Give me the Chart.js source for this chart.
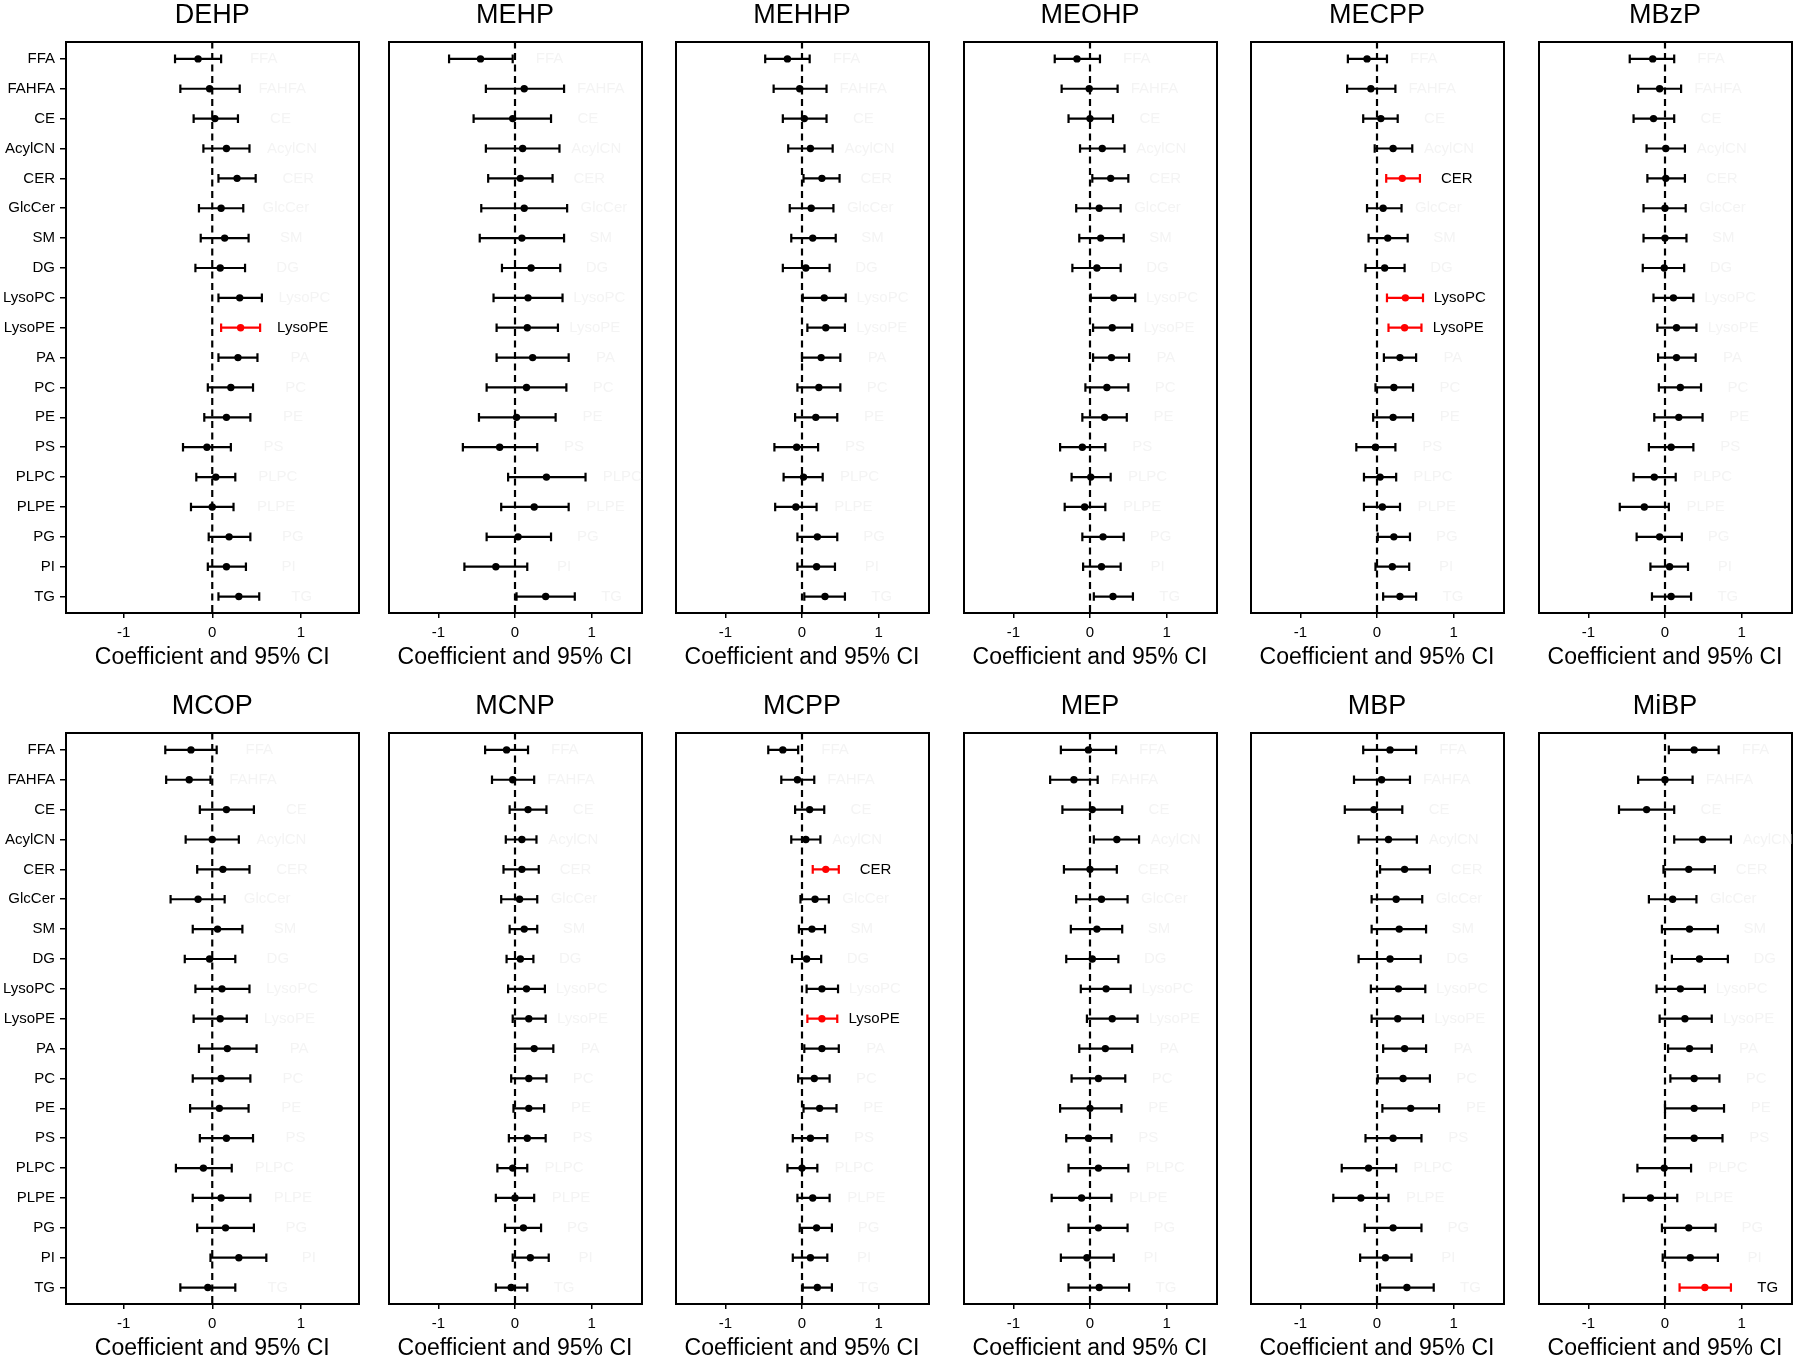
<!DOCTYPE html>
<html>
<head>
<meta charset="utf-8">
<script src="https://cdn.jsdelivr.net/npm/chart.js@4.4.1/dist/chart.umd.min.js"></script>
<style>
  html, body { margin: 0; padding: 0; background: #fff; overflow: hidden; }
  body { width: 1800px; height: 1359px; position: relative; }
  canvas { position: absolute; }
</style>
</head>
<body>
<script>
// lipid classes, top to bottom
const categories = ['FFA', 'FAHFA', 'CE', 'AcylCN', 'CER', 'GlcCer', 'SM', 'DG', 'LysoPC', 'LysoPE',
  'PA', 'PC', 'PE', 'PS', 'PLPC', 'PLPE', 'PG', 'PI', 'TG'];
const xTicks = [-1, 0, 1];

// DEHP
const dehpLo  = [-0.42, -0.36, -0.21, -0.10, 0.07, -0.15, -0.13, -0.19, 0.07, 0.10, 0.07, -0.05, -0.09, -0.33, -0.18, -0.24, -0.04, -0.05, 0.07];
const dehpEst = [-0.16, -0.03, 0.03, 0.16, 0.28, 0.10, 0.14, 0.09, 0.31, 0.32, 0.29, 0.21, 0.16, -0.06, 0.04, 0.00, 0.19, 0.16, 0.30];
const dehpHi  = [0.10, 0.31, 0.29, 0.42, 0.49, 0.35, 0.41, 0.37, 0.56, 0.54, 0.51, 0.46, 0.43, 0.21, 0.26, 0.24, 0.43, 0.38, 0.53];
const dehpSig = ['LysoPE'];

// MEHP
const mehpLo  = [-0.86, -0.38, -0.54, -0.38, -0.35, -0.44, -0.46, -0.17, -0.28, -0.24, -0.24, -0.37, -0.47, -0.68, -0.09, -0.18, -0.37, -0.66, 0.02];
const mehpEst = [-0.45, 0.12, -0.03, 0.10, 0.07, 0.12, 0.09, 0.21, 0.17, 0.16, 0.23, 0.15, 0.02, -0.20, 0.41, 0.25, 0.04, -0.25, 0.40];
const mehpHi  = [-0.03, 0.64, 0.47, 0.58, 0.49, 0.68, 0.64, 0.59, 0.62, 0.56, 0.70, 0.67, 0.53, 0.29, 0.92, 0.70, 0.47, 0.16, 0.78];
const mehpSig = [];

// MEHHP
const mehhpLo  = [-0.48, -0.37, -0.25, -0.18, 0.02, -0.16, -0.14, -0.25, 0.01, 0.07, 0.00, -0.06, -0.09, -0.36, -0.24, -0.35, -0.06, -0.06, 0.03];
const mehhpEst = [-0.19, -0.03, 0.03, 0.11, 0.26, 0.12, 0.14, 0.05, 0.29, 0.31, 0.25, 0.22, 0.18, -0.07, 0.02, -0.08, 0.20, 0.19, 0.30];
const mehhpHi  = [0.10, 0.32, 0.32, 0.40, 0.49, 0.41, 0.44, 0.36, 0.57, 0.56, 0.50, 0.50, 0.46, 0.21, 0.27, 0.19, 0.46, 0.43, 0.56];
const mehhpSig = [];

// MEOHP
const meohpLo  = [-0.46, -0.37, -0.28, -0.13, 0.03, -0.18, -0.14, -0.23, 0.01, 0.04, 0.04, -0.06, -0.10, -0.39, -0.24, -0.33, -0.10, -0.09, 0.05];
const meohpEst = [-0.17, -0.01, 0.00, 0.16, 0.27, 0.12, 0.14, 0.09, 0.31, 0.29, 0.28, 0.22, 0.19, -0.10, 0.01, -0.07, 0.17, 0.15, 0.30];
const meohpHi  = [0.13, 0.36, 0.30, 0.45, 0.50, 0.40, 0.44, 0.40, 0.59, 0.55, 0.51, 0.50, 0.48, 0.20, 0.27, 0.20, 0.44, 0.40, 0.56];
const meohpSig = [];

// MECPP
const mecppLo  = [-0.38, -0.39, -0.18, -0.03, 0.12, -0.13, -0.11, -0.15, 0.13, 0.15, 0.09, -0.02, -0.05, -0.27, -0.17, -0.17, 0.01, -0.02, 0.08];
const mecppEst = [-0.13, -0.08, 0.05, 0.21, 0.33, 0.08, 0.14, 0.10, 0.37, 0.36, 0.30, 0.22, 0.21, -0.02, 0.04, 0.07, 0.22, 0.20, 0.30];
const mecppHi  = [0.13, 0.24, 0.27, 0.46, 0.56, 0.32, 0.40, 0.36, 0.60, 0.58, 0.51, 0.47, 0.47, 0.24, 0.25, 0.30, 0.43, 0.42, 0.51];
const mecppSig = ['CER', 'LysoPC', 'LysoPE'];

// MBzP
const mbzpLo  = [-0.46, -0.35, -0.41, -0.24, -0.23, -0.28, -0.28, -0.29, -0.15, -0.10, -0.09, -0.08, -0.14, -0.21, -0.41, -0.59, -0.37, -0.19, -0.17];
const mbzpEst = [-0.16, -0.07, -0.15, 0.01, 0.01, 0.00, 0.00, -0.01, 0.11, 0.15, 0.15, 0.20, 0.18, 0.08, -0.14, -0.27, -0.07, 0.06, 0.08];
const mbzpHi  = [0.12, 0.21, 0.12, 0.26, 0.26, 0.27, 0.28, 0.25, 0.37, 0.41, 0.40, 0.47, 0.49, 0.37, 0.14, 0.05, 0.22, 0.30, 0.34];
const mbzpSig = [];

// MCOP
const mcopLo  = [-0.53, -0.52, -0.14, -0.30, -0.17, -0.47, -0.22, -0.31, -0.19, -0.21, -0.15, -0.22, -0.25, -0.14, -0.41, -0.22, -0.17, -0.02, -0.36];
const mcopEst = [-0.24, -0.26, 0.16, 0.00, 0.12, -0.16, 0.06, -0.03, 0.11, 0.09, 0.17, 0.10, 0.08, 0.16, -0.10, 0.10, 0.15, 0.30, -0.05];
const mcopHi  = [0.05, -0.02, 0.47, 0.30, 0.42, 0.14, 0.34, 0.26, 0.42, 0.39, 0.50, 0.43, 0.41, 0.46, 0.22, 0.43, 0.47, 0.61, 0.26];
const mcopSig = [];

// MCNP
const mcnpLo  = [-0.39, -0.30, -0.07, -0.12, -0.15, -0.18, -0.07, -0.11, -0.09, -0.03, 0.00, -0.05, -0.02, -0.08, -0.23, -0.25, -0.13, -0.03, -0.25];
const mcnpEst = [-0.11, -0.03, 0.17, 0.09, 0.09, 0.06, 0.12, 0.07, 0.15, 0.18, 0.25, 0.18, 0.18, 0.16, -0.03, 0.00, 0.11, 0.20, -0.05];
const mcnpHi  = [0.17, 0.25, 0.41, 0.28, 0.31, 0.29, 0.29, 0.24, 0.39, 0.40, 0.50, 0.41, 0.38, 0.40, 0.16, 0.25, 0.34, 0.44, 0.16];
const mcnpSig = [];

// MCPP
const mcppLo  = [-0.44, -0.27, -0.09, -0.14, 0.14, -0.02, -0.04, -0.13, 0.06, 0.07, 0.03, -0.05, 0.02, -0.12, -0.19, -0.06, -0.03, -0.12, 0.01];
const mcppEst = [-0.25, -0.06, 0.10, 0.05, 0.31, 0.17, 0.13, 0.06, 0.26, 0.26, 0.26, 0.16, 0.23, 0.11, 0.00, 0.14, 0.19, 0.11, 0.20];
const mcppHi  = [-0.05, 0.16, 0.29, 0.24, 0.48, 0.35, 0.30, 0.25, 0.47, 0.46, 0.48, 0.36, 0.45, 0.33, 0.20, 0.36, 0.39, 0.33, 0.39];
const mcppSig = ['CER', 'LysoPE'];

// MEP
const mepLo  = [-0.38, -0.52, -0.36, 0.05, -0.34, -0.18, -0.25, -0.31, -0.12, -0.04, -0.14, -0.24, -0.39, -0.31, -0.28, -0.50, -0.28, -0.38, -0.28];
const mepEst = [-0.02, -0.21, 0.03, 0.35, 0.00, 0.15, 0.09, 0.03, 0.21, 0.29, 0.20, 0.11, 0.00, -0.02, 0.11, -0.11, 0.11, -0.04, 0.12];
const mepHi  = [0.34, 0.10, 0.42, 0.64, 0.35, 0.49, 0.42, 0.37, 0.53, 0.62, 0.55, 0.46, 0.41, 0.28, 0.50, 0.28, 0.49, 0.31, 0.51];
const mepSig = [];

// MBP
const mbpLo  = [-0.18, -0.30, -0.42, -0.24, 0.04, -0.07, -0.07, -0.24, -0.08, -0.07, 0.08, 0.01, 0.07, -0.15, -0.46, -0.57, -0.16, -0.22, 0.04];
const mbpEst = [0.17, 0.06, -0.04, 0.15, 0.36, 0.25, 0.29, 0.17, 0.28, 0.27, 0.36, 0.34, 0.44, 0.21, -0.11, -0.21, 0.21, 0.11, 0.39];
const mbpHi  = [0.51, 0.43, 0.33, 0.52, 0.69, 0.59, 0.64, 0.57, 0.63, 0.60, 0.64, 0.69, 0.81, 0.58, 0.25, 0.15, 0.58, 0.45, 0.74];
const mbpSig = [];

// MiBP
const mibpLo  = [0.05, -0.35, -0.60, 0.12, -0.02, -0.21, -0.04, 0.09, -0.11, -0.07, 0.04, 0.07, 0.00, 0.00, -0.36, -0.54, -0.04, -0.03, 0.19];
const mibpEst = [0.38, 0.00, -0.24, 0.49, 0.31, 0.10, 0.32, 0.45, 0.20, 0.26, 0.32, 0.38, 0.38, 0.38, -0.01, -0.19, 0.31, 0.33, 0.52];
const mibpHi  = [0.70, 0.36, 0.12, 0.86, 0.65, 0.41, 0.69, 0.82, 0.52, 0.61, 0.61, 0.71, 0.77, 0.75, 0.34, 0.16, 0.66, 0.69, 0.86];
const mibpSig = ['TG'];

const panels = [
  { name: 'DEHP',  lo: dehpLo,  est: dehpEst,  hi: dehpHi,  sig: dehpSig },
  { name: 'MEHP',  lo: mehpLo,  est: mehpEst,  hi: mehpHi,  sig: mehpSig },
  { name: 'MEHHP', lo: mehhpLo, est: mehhpEst, hi: mehhpHi, sig: mehhpSig },
  { name: 'MEOHP', lo: meohpLo, est: meohpEst, hi: meohpHi, sig: meohpSig },
  { name: 'MECPP', lo: mecppLo, est: mecppEst, hi: mecppHi, sig: mecppSig },
  { name: 'MBzP',  lo: mbzpLo,  est: mbzpEst,  hi: mbzpHi,  sig: mbzpSig },
  { name: 'MCOP',  lo: mcopLo,  est: mcopEst,  hi: mcopHi,  sig: mcopSig },
  { name: 'MCNP',  lo: mcnpLo,  est: mcnpEst,  hi: mcnpHi,  sig: mcnpSig },
  { name: 'MCPP',  lo: mcppLo,  est: mcppEst,  hi: mcppHi,  sig: mcppSig },
  { name: 'MEP',   lo: mepLo,   est: mepEst,   hi: mepHi,   sig: mepSig },
  { name: 'MBP',   lo: mbpLo,   est: mbpEst,   hi: mbpHi,   sig: mbpSig },
  { name: 'MiBP',  lo: mibpLo,  est: mibpEst,  hi: mibpHi,  sig: mibpSig }
];

// page layout (px)
const panelLeft = [66, 384, 671, 959, 1246, 1534];
const panelWidth = [297, 262, 262, 262, 262, 262];
const rowTop = [0, 691];
const FONT = '"Liberation Sans", Arial, sans-serif';
const RED = '#ff0000';
const Y_MIN = -0.58, Y_MAX = 18.55;

Chart.defaults.font.family = FONT;
Chart.defaults.color = '#000';

// class name printed to the right of each CI; almost invisible unless significant
const ciLabels = {
  id: 'ciLabels',
  afterDatasetsDraw(chart, args, opts) {
    const { ctx, chartArea, scales: { x, y } } = chart;
    const p = opts.panel;
    ctx.save();
    ctx.beginPath();
    ctx.rect(chartArea.left, chartArea.top, chartArea.width, chartArea.height);
    ctx.clip();
    ctx.font = '15px ' + FONT;
    ctx.textAlign = 'center';
    ctx.textBaseline = 'middle';
    categories.forEach((c, i) => {
      ctx.fillStyle = p.sig.includes(c) ? '#000' : '#f4f4f4';
      ctx.fillText(c, x.getPixelForValue(p.hi[i] + 0.48), y.getPixelForValue(i));
    });
    ctx.restore();
  }
};

function makePanel(p, idx) {
  const col = idx % 6, row = Math.floor(idx / 6);
  const first = col === 0;
  const axisW = first ? 66 : 2;
  const canvas = document.createElement('canvas');
  canvas.width = axisW + panelWidth[col] + 2;
  canvas.height = 680;
  canvas.style.left = (panelLeft[col] - axisW) + 'px';
  canvas.style.top = rowTop[row] + 'px';
  document.body.appendChild(canvas);

  const colors = categories.map(c => p.sig.includes(c) ? RED : '#000');
  const datasets = [];
  datasets.push({
    data: p.est.map((v, i) => ({ x: v, y: i })),
    pointRadius: 3.7,
    pointBackgroundColor: colors,
    pointBorderColor: colors,
    pointBorderWidth: 0,
    showLine: false
  });
  categories.forEach((c, i) => {
    datasets.push({
      data: [{ x: p.lo[i], y: i }, { x: p.hi[i], y: i }],
      showLine: true,
      borderColor: colors[i],
      borderWidth: 2.2,
      pointStyle: 'line',
      pointRotation: 90,
      pointRadius: 4.3,
      pointBorderWidth: 2.2,
      pointBorderColor: colors[i],
      pointBackgroundColor: colors[i]
    });
  });
  datasets.push({
    data: [{ x: 0, y: Y_MIN }, { x: 0, y: Y_MAX }],
    showLine: true,
    borderColor: '#000',
    borderWidth: 2.2,
    borderDash: [7, 4.5],
    pointRadius: 0
  });

  new Chart(canvas, {
    type: 'scatter',
    data: { datasets },
    plugins: [ciLabels],
    options: {
      responsive: false,
      animation: false,
      events: [],
      layout: { padding: 0 },
      plugins: {
        legend: { display: false },
        tooltip: { enabled: false },
        title: {
          display: true, text: p.name, fullSize: false, color: '#000',
          font: { size: 27, weight: 'normal', lineHeight: 1.15 }, padding: { top: 0, bottom: 8.5 }
        },
        ciLabels: { panel: p }
      },
      scales: {
        x: {
          type: 'linear', position: 'bottom', min: -1.65, max: 1.65,
          afterBuildTicks: s => { s.ticks = xTicks.map(v => ({ value: v })); },
          afterFit: s => { s.height = 67; },
          grid: { display: true, drawOnChartArea: false, drawTicks: true, tickLength: 5, color: '#000', lineWidth: 1.5 },
          border: { display: true, color: '#000', width: 2 },
          ticks: { color: '#000', font: { size: 15 }, padding: 6, maxRotation: 0, autoSkip: false, callback: v => String(v) },
          title: { display: true, text: 'Coefficient and 95% CI', color: '#000', font: { size: 23 }, padding: { top: 0, bottom: 9 } }
        },
        x2: {
          type: 'linear', position: 'top', min: 0, max: 1,
          grid: { display: false }, ticks: { display: false },
          border: { display: true, color: '#000', width: 2 },
          afterFit: s => { s.height = 2; }
        },
        y: {
          type: 'linear', position: 'left', min: Y_MIN, max: Y_MAX, reverse: true,
          afterBuildTicks: s => { s.ticks = categories.map((c, i) => ({ value: i })); },
          afterFit: s => { s.width = axisW; },
          grid: { display: first, drawOnChartArea: false, drawTicks: true, tickLength: 6, color: '#000', lineWidth: 1.5 },
          border: { display: true, color: '#000', width: 2 },
          ticks: { display: first, color: '#000', font: { size: 15 }, padding: 5, autoSkip: false, callback: v => categories[v] ?? '' }
        },
        y2: {
          type: 'linear', position: 'right', min: 0, max: 1,
          grid: { display: false }, ticks: { display: false },
          border: { display: true, color: '#000', width: 2 },
          afterFit: s => { s.width = 2; }
        }
      }
    }
  });
}

panels.forEach(makePanel);
</script>
</body>
</html>
